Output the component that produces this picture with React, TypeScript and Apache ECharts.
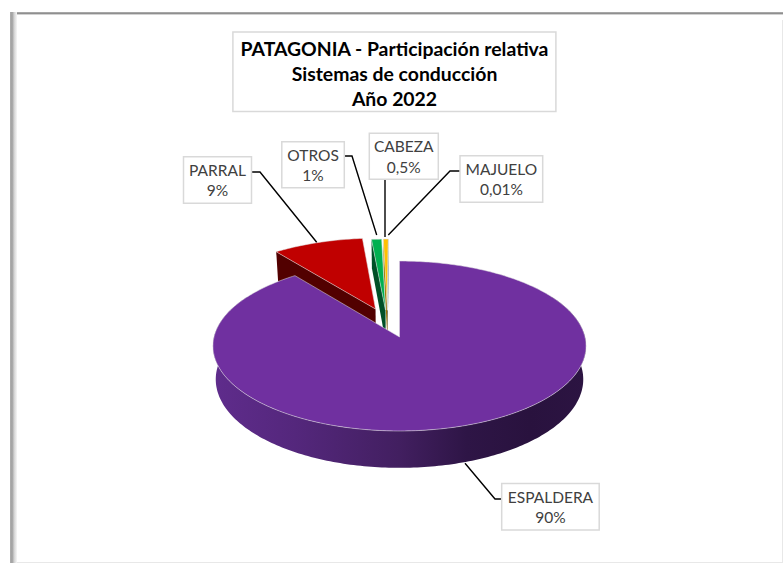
import React, { useEffect, useRef } from "react";
import * as echarts from "echarts";

const categories = ["ESPALDERA", "PARRAL", "OTROS", "CABEZA", "MAJUELO"];
const values = [90, 9, 1, 0.5, 0.01];
const titleLines = ["PATAGONIA - Participación relativa", "Sistemas de conducción", "Año 2022"];

const topColors = ["#7030a0", "#c00000", "#00b050", "#ffc000", "#4472c4"];
const sideColors = ["#3a1a58", "#520000", "#005027", "#9a7400", "#223962"];
// offset of each exploded slice on the pie plane, in radii
const explodeU = [0, -0.134, -0.078, -0.0676, -0.0676];
const explodeV = [0, 0.345, 0.33, 0.33, 0.33];

// picture-plane projection of the tilted pie
const CX = 399.5;
const CY = 337;
const RX = 185.5;
const RY = 84;
const K = 0.106;
const DEPTH = 33;
const BOTTOM_SCALE = 0.985;

const total = values.reduce((a, b) => a + b, 0);

function project(u: number, v: number, lower: boolean): number[] {
  const w = 1 + K * v;
  const s = lower ? BOTTOM_SCALE : 1;
  return [CX + (RX * u * s) / w, CY - (RY * v) / w + (lower ? DEPTH / w : 0)];
}

function arcPoints(a0: number, a1: number, du: number, dv: number, lower: boolean): number[][] {
  const n = Math.max(2, Math.ceil(Math.abs(a1 - a0) / 1));
  const pts: number[][] = [];
  for (let i = 0; i <= n; i++) {
    const a = ((a0 + ((a1 - a0) * i) / n) * Math.PI) / 180;
    pts.push(project(Math.sin(a) + du, Math.cos(a) + dv, lower));
  }
  return pts;
}

function startAngle(index: number): number {
  let sum = 0;
  for (let i = 0; i < index; i++) sum += values[i];
  return (sum / total) * 360;
}

const renderSlice = (params: any, api: any) => {
  const i = params.dataIndex;
  const a0 = startAngle(i);
  const a1 = a0 + (api.value(0) / total) * 360;
  const du = explodeU[i];
  const dv = explodeV[i];
  const apexTop = project(du, dv, false);
  const apexLow = project(du, dv, true);
  const children: any[] = [];
  const edge = { stroke: "rgba(225,225,225,0.75)", lineWidth: 0.7 };

  if (i === 0) {
    const upper = arcPoints(60, 300, 0, 0, false);
    const lower = arcPoints(60, 300, 0, 0, true).reverse();
    children.push({
      type: "polygon",
      z2: 50,
      shape: { points: upper.concat(lower) },
      style: {
        fill: new echarts.graphic.LinearGradient(0, 0, 1, 0, [
          { offset: 0, color: "#5f2c8c" },
          { offset: 0.22, color: "#54277c" },
          { offset: 0.5, color: "#421f60" },
          { offset: 0.68, color: "#2e1546" },
          { offset: 0.85, color: "#29123e" },
          { offset: 1, color: "#2c1442" },
        ]),
      },
    });
    children.push({
      type: "polygon",
      z2: 60,
      shape: { points: [[CX, CY], ...arcPoints(a0, a1, 0, 0, false)] },
      style: { fill: topColors[0], ...edge },
    });
  } else {
    const corner = project(Math.sin((a0 * Math.PI) / 180) + du, Math.cos((a0 * Math.PI) / 180) + dv, false);
    const cornerLow = project(Math.sin((a0 * Math.PI) / 180) + du, Math.cos((a0 * Math.PI) / 180) + dv, true);
    children.push({
      type: "polygon",
      z2: 10 - i,
      shape: { points: [corner, apexTop, apexLow, cornerLow] },
      style: { fill: sideColors[i] },
    });
    children.push({
      type: "polygon",
      z2: 20 + i,
      shape: { points: [apexTop, ...arcPoints(a0, a1, du, dv, false)] },
      style: { fill: topColors[i], ...edge },
    });
  }
  return { type: "group", children };
};

const pctText = (v: number) => String(v).replace(".", ",") + "%";

// label boxes [x, y, w, h] and leader lines, same order as categories
const boxes = [
  [501.7, 483.5, 97.5, 46.5],
  [183.5, 156.8, 68, 46.5],
  [281.8, 141.8, 62.5, 46],
  [369.3, 133.3, 69, 46],
  [460, 155.8, 82.7, 46.5],
];
const leaders = [
  [[501.7, 499], [495, 499], [465, 463.3]],
  [[251.5, 172], [260, 172], [316.7, 242.3]],
  [[344.3, 156], [352, 156], [376.7, 235]],
  [[385, 179.3], [385, 237]],
  [[460, 171], [450, 171], [388.3, 235]],
];

function buildGraphic(): any[] {
  const els: any[] = [
    { type: "rect", z: 1, shape: { x: 10, y: 12, width: 773, height: 1 }, style: { fill: "#a6a6a6" } },
    { type: "rect", z: 1, shape: { x: 10, y: 13, width: 773, height: 1 }, style: { fill: "#8f8f8f" } },
    { type: "rect", z: 1, shape: { x: 10, y: 14, width: 773, height: 1 }, style: { fill: "#d2d2d2" } },
    {
      type: "rect",
      z: 1,
      shape: { x: 10, y: 12, width: 7, height: 551 },
      style: {
        fill: new echarts.graphic.LinearGradient(0, 0, 1, 0, [
          { offset: 0, color: "#b0b0b0" },
          { offset: 0.3, color: "#a0a0a0" },
          { offset: 0.6, color: "#d4d4d4" },
          { offset: 1, color: "#f7f7f7" },
        ]),
      },
    },
    { type: "rect", z: 1, shape: { x: 17, y: 562, width: 766, height: 1 }, style: { fill: "#e8e8e8" } },
    { type: "rect", z: 1, shape: { x: 782, y: 20, width: 1, height: 543 }, style: { fill: "#e8e8e8" } },
    {
      type: "rect",
      z: 10,
      shape: { x: 232.9, y: 31.9, width: 323, height: 79.5 },
      style: { fill: "#ffffff", stroke: "#d9d9d9", lineWidth: 1.5 },
    },
  ];
  titleLines.forEach((line, i) => {
    els.push({
      type: "text",
      z: 11,
      x: 394.5,
      y: 48 + i * 25,
      style: {
        text: line,
        fill: "#000000",
        font: "bold 19.4px Lato",
        align: "center",
        verticalAlign: "middle",
      },
    });
  });
  categories.forEach((name, i) => {
    const [x, y, w, h] = boxes[i];
    els.push({
      type: "polyline",
      z: 10,
      shape: { points: leaders[i] },
      style: { stroke: "#000000", lineWidth: 1.4, fill: "none" },
    });
    els.push({
      type: "rect",
      z: 11,
      shape: { x, y, width: w, height: h },
      style: { fill: "#ffffff", stroke: "#d9d9d9", lineWidth: 1.5 },
    });
    [name, pctText(values[i])].forEach((t, j) => {
      els.push({
        type: "text",
        z: 12,
        x: x + w / 2,
        y: y + 13 + j * 20.5,
        style: { text: t, fill: "#404040", font: "15.5px Lato", align: "center", verticalAlign: "middle" },
      });
    });
  });
  return els;
}

export default function App() {
  const ref = useRef<HTMLDivElement>(null);
  useEffect(() => {
    const chart = echarts.init(ref.current!, undefined, { renderer: "svg" });
    chart.setOption({
      animation: false,
      backgroundColor: "#ffffff",
      graphic: buildGraphic(),
      series: [
        {
          type: "custom",
          coordinateSystem: "none",
          silent: true,
          data: values.map((v, i) => ({ name: categories[i], value: [v] })),
          encode: { value: 0 },
          renderItem: renderSlice,
        },
      ],
    });
    return () => chart.dispose();
  }, []);
  return <div ref={ref} style={{ position: "fixed", left: 0, top: 0, width: 783, height: 563 }} />;
}
